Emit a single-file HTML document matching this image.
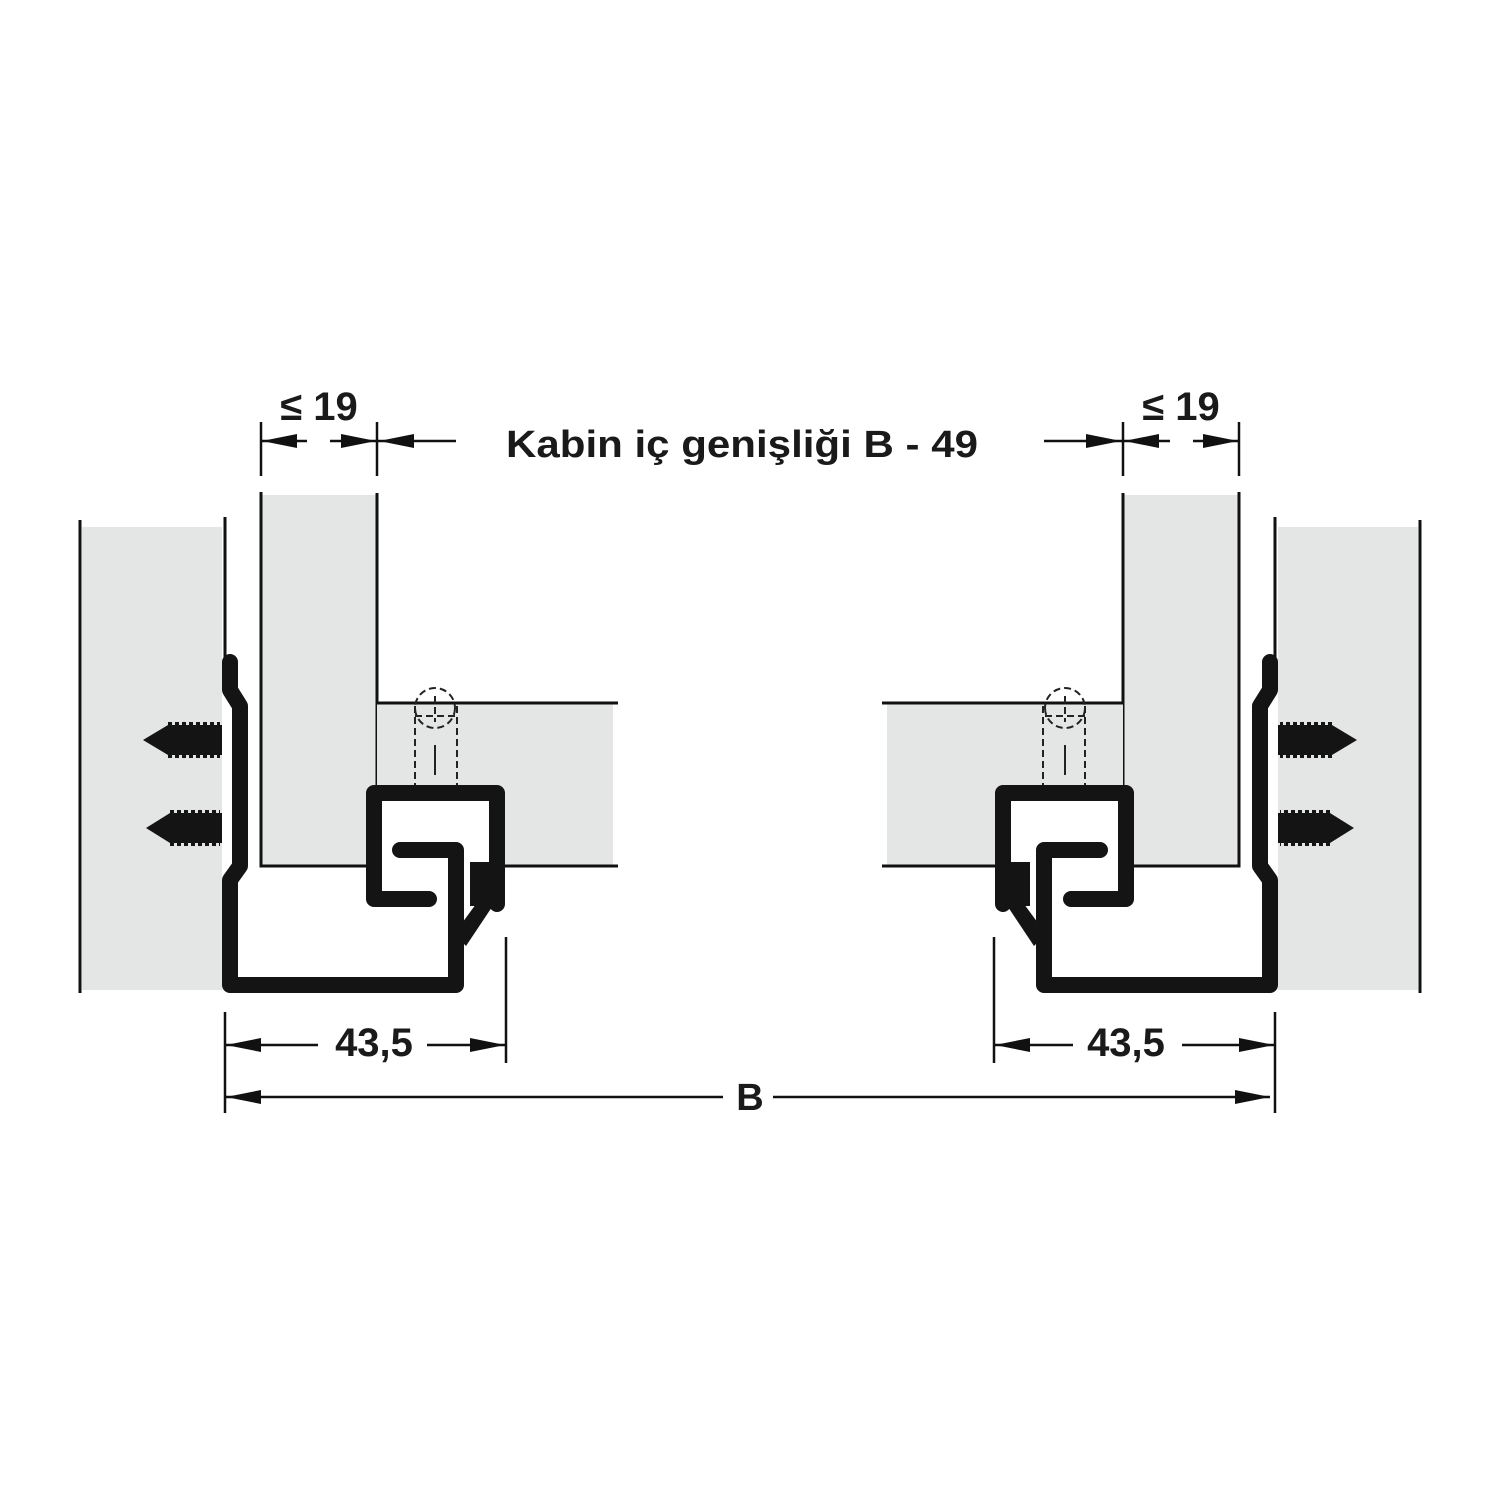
<!DOCTYPE html>
<html><head><meta charset="utf-8"><style>html,body{margin:0;padding:0;background:#fff}svg{display:block}</style></head>
<body>
<svg width="1500" height="1500" viewBox="0 0 1500 1500" xmlns="http://www.w3.org/2000/svg">
<defs>
<g id="half">
  <rect x="82" y="527" width="140" height="463" fill="#e4e6e6"/>
  <line x1="80" y1="520" x2="80" y2="993" stroke="#111" stroke-width="3"/>
  <line x1="225" y1="517" x2="225" y2="660" stroke="#111" stroke-width="3"/>
  <rect x="261" y="495" width="116" height="371" fill="#e4e6e6"/>
  <polyline points="261,492 261,866 372,866" fill="none" stroke="#111" stroke-width="3"/>
  <line x1="377" y1="493" x2="377" y2="790" stroke="#111" stroke-width="3"/>
  <rect x="377" y="703" width="236" height="163" fill="#e4e6e6"/>
  <line x1="377" y1="703" x2="618" y2="703" stroke="#111" stroke-width="3"/>
  <line x1="500" y1="866" x2="618" y2="866" stroke="#111" stroke-width="3"/>
  <g fill="none" stroke="#222" stroke-width="2" stroke-dasharray="7,4">
    <circle cx="435" cy="708" r="20"/>
    <line x1="415" y1="706" x2="415" y2="785"/>
    <line x1="457" y1="706" x2="457" y2="785"/>
    <line x1="415" y1="716" x2="457" y2="716"/>
    <line x1="435" y1="696" x2="435" y2="722"/>
  </g>
  <line x1="435" y1="745" x2="435" y2="775" stroke="#222" stroke-width="2"/>
  <!-- box interior white -->
  <rect x="374" y="792" width="124" height="110" fill="#fff"/>
  <g fill="#141414">
    <path d="M143,740 L168,725 L222,725 L222,755 L168,755 Z"/>
    <path d="M146,828 L170,813 L222,813 L222,843 L170,843 Z"/>
  </g>
  <g fill="none" stroke="#141414" stroke-width="4" stroke-dasharray="4,3">
    <line x1="168" y1="724" x2="220" y2="724"/><line x1="168" y1="756" x2="220" y2="756"/>
    <line x1="170" y1="812" x2="220" y2="812"/><line x1="170" y1="844" x2="220" y2="844"/>
  </g>
  <g fill="none" stroke="#141414" stroke-width="16" stroke-linejoin="round" stroke-linecap="round">
    <path d="M230,662 L230,690 L240,706 L240,866 L230,880 L230,985 L456,985 L456,850 L400,850"/>
    <path d="M429,899 L374,899 L374,793 L497,793 L497,904"/>
  </g>
  <rect x="470" y="862" width="22" height="44" fill="#141414"/>
  <polygon points="476,904 494,904 466,946 454,934" fill="#141414"/>
  <g stroke="#111" stroke-width="2.5">
    <line x1="261" y1="422" x2="261" y2="476"/>
    <line x1="377" y1="422" x2="377" y2="476"/>
    <line x1="225" y1="1012" x2="225" y2="1113"/>
    <line x1="506" y1="937" x2="506" y2="1063"/>
  </g>
  <g stroke="#111" stroke-width="2.5">
    <line x1="262" y1="441" x2="307" y2="441"/>
    <line x1="330" y1="441" x2="376" y2="441"/>
    <line x1="378" y1="441" x2="456" y2="441"/>
    <line x1="226" y1="1045" x2="318" y2="1045"/>
    <line x1="427" y1="1045" x2="505" y2="1045"/>
  </g>
  <g fill="#111">
    <polygon points="262,441 297,434 297,448"/>
    <polygon points="376,441 341,434 341,448"/>
    <polygon points="379,441 414,434 414,448"/>
    <polygon points="226,1045 261,1038 261,1052"/>
    <polygon points="505,1045 470,1038 470,1052"/>
  </g>
</g>
</defs>
<use href="#half"/>
<use href="#half" transform="translate(1500,0) scale(-1,1)"/>
<line x1="226" y1="1097" x2="723" y2="1097" stroke="#111" stroke-width="2.5"/>
<line x1="773" y1="1097" x2="1270" y2="1097" stroke="#111" stroke-width="2.5"/>
<polygon points="226,1097 261,1090 261,1104" fill="#111"/>
<polygon points="1270,1097 1235,1090 1235,1104" fill="#111"/>
<g font-family="Liberation Sans, Arial, sans-serif" font-weight="bold" fill="#1a1a1a">
  <text x="319" y="420" font-size="40" text-anchor="middle">≤ 19</text>
  <text x="1181" y="420" font-size="40" text-anchor="middle">≤ 19</text>
  <text x="506" y="457" font-size="38" textLength="472" lengthAdjust="spacingAndGlyphs">Kabin iç genişliği B - 49</text>
  <text x="374" y="1056" font-size="40" text-anchor="middle">43,5</text>
  <text x="1126" y="1056" font-size="40" text-anchor="middle">43,5</text>
  <text x="750" y="1110" font-size="38" text-anchor="middle">B</text>
</g>
</svg>
</body></html>
